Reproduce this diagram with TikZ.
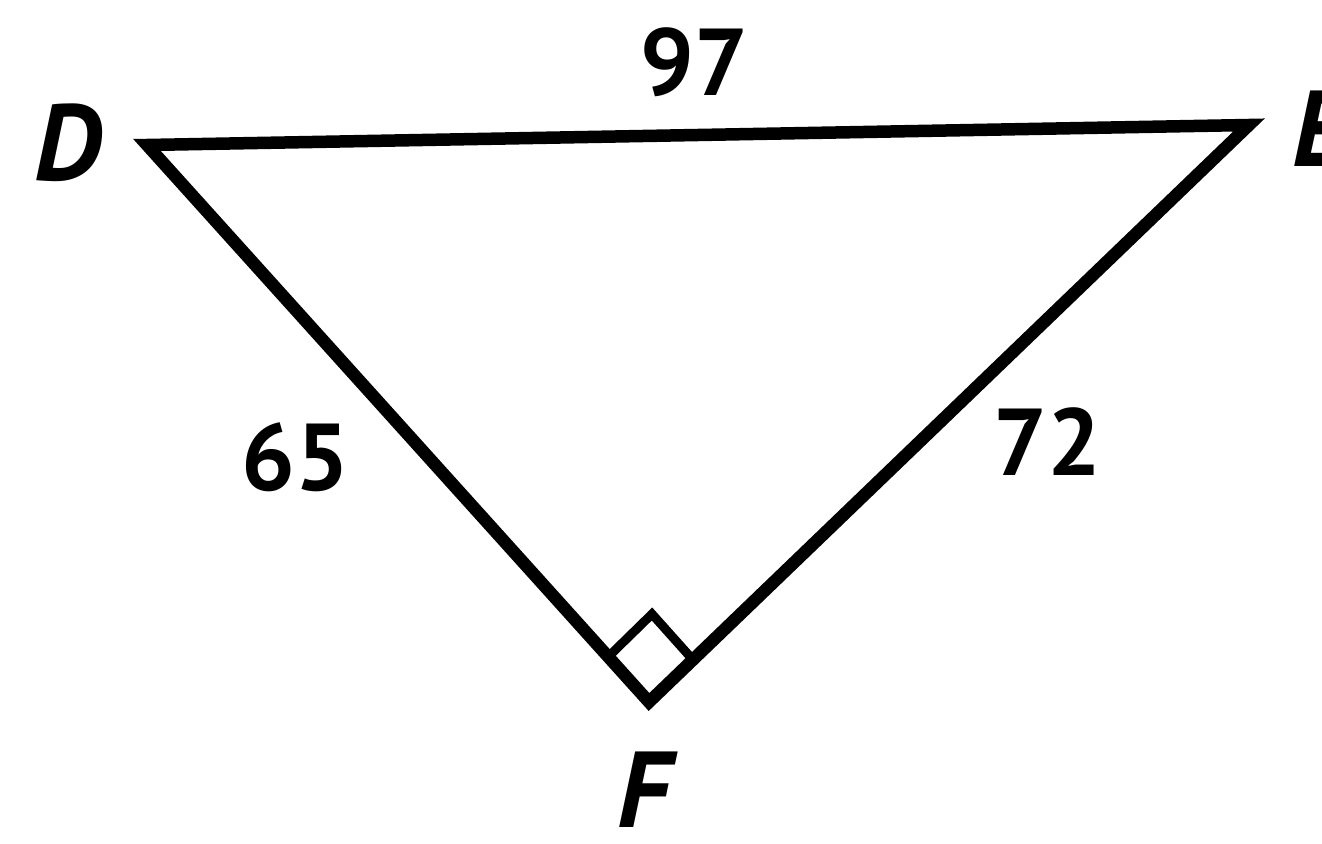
\documentclass[tikz,border=0pt]{standalone}
\usepackage{fontspec}
\setmainfont{PT Sans}
\begin{document}
\begin{tikzpicture}[x=1pt,y=-1pt,
  side/.style={line width=12.5pt,line join=miter,line cap=butt},
  rightmark/.style={line width=9pt},
  num/.style={font=\fontsize{95}{95}\selectfont\bfseries,inner sep=0pt},
  vlab/.style={font=\fontsize{108}{108}\selectfont\bfseries\itshape,inner sep=0pt}]
\useasboundingbox (0,0) rectangle (1322,843);
\coordinate (D) at (147,145);
\coordinate (E) at (1249,125);
\coordinate (F) at (649,702);
\coordinate (S1) at (607,658);
\coordinate (S2) at (652,614);
\coordinate (S3) at (694,661);
\draw[side] (D) -- (E) -- (F) -- cycle;
\draw[rightmark] (S1) -- (S2) -- (S3);
\node[num] (l97) at (694,62) {97};
\node[num] (l65) at (295,457) {65};
\node[num] (l72) at (1047,442) {72};
\node[vlab] (lD) at (68,143) {D};
\node[vlab] (lE) at (1320,129) {E};
\node[vlab] (lF) at (644,790) {F};
\end{tikzpicture}
\end{document}
